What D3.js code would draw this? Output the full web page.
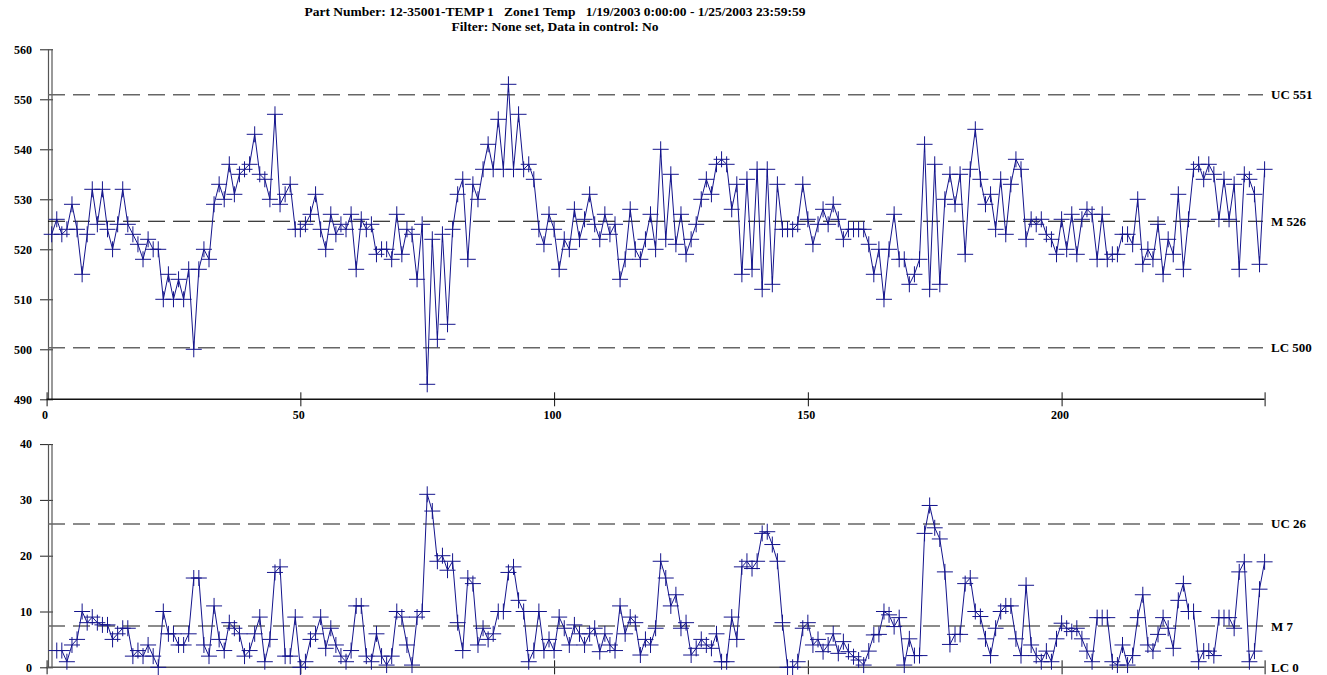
<!DOCTYPE html>
<html>
<head>
<meta charset="utf-8">
<script src="https://cdn.jsdelivr.net/npm/d3@7/dist/d3.min.js"></script>
<style>
  body { margin: 0; background: #fff; }
  svg { display: block; }
  text { font-family: "Liberation Serif", "Times New Roman", serif; font-weight: bold; fill: #000; }
</style>
</head>
<body>
<svg id="chart" width="1327" height="675"></svg>
<script>
// Zone1 Temp readings, samples 1..240
const individuals = [
  523,526,523,524,529,524,515,523,532,525,532,524,520,525,532,525,523,521,518,522,
  520,520,510,515,510,514,510,516,500,516,520,518,529,533,530,537,531,535,536,537,
  543,535,534,530,547,529,531,533,524,524,525,527,531,524,520,527,523,525,524,527,
  516,526,524,525,519,520,520,518,527,519,524,523,514,525,493,522,502,523,505,524,
  531,534,518,533,530,536,541,536,546,536,553,536,547,536,537,534,524,521,527,524,
  516,522,520,528,522,526,531,525,522,527,523,525,514,518,528,520,518,522,527,520,
  540,522,535,521,527,519,522,525,530,534,531,537,538,537,528,533,515,534,516,536,
  512,536,513,533,524,524,524,525,533,526,521,525,528,525,529,526,522,524,524,524,
  524,521,515,520,510,520,527,518,518,513,515,518,541,512,537,513,530,535,529,535,
  519,536,544,534,529,531,524,534,523,533,538,536,522,526,525,526,523,522,519,526,
  520,527,519,526,528,527,518,527,518,519,519,523,523,521,530,517,520,518,525,515,
  522,519,531,516,526,536,537,534,537,535,526,534,526,533,516,535,534,531,517,536
];

// moving ranges, samples 2..240
const movingRanges = [
  3,3,1,4,5,10,8,9,8,7.6,7.6,5,6,7,7,2,3,2,4,
  2,0,10,6,6,4,4,6,16,16,4,2,11,5,3,8,7,6,2,3,
  6,9,1,5,17,18,2,2,9,0,1,5,6,9,3.4,7,4,2,1,3,
  11,11,2,1,6,2,0.4,2,10,9,4,0.4,9,10,31,28,19,20,17.4,19,
  8,3,16,15,4,7,5,6,10,10,17,18,12,10,1,3,10,3,5,3,
  9,7,4,7.6,6,4,6,7,2.8,6,4,3,11,6,9,8,2.2,5,4,7,
  19,16,11,13,7,8,2.2,3.4,5,4,3.4,6,1,1,9,5,18,19,17.7,19,
  24,24.3,22,19,8,0,0,1,7,8,4,5,2.8,4,6,2.5,4.6,2.8,1.9,1.3,
  0.4,2.9,5.8,5.9,10,9.4,7.3,8.9,0.4,5.1,2.1,2.1,24,29,25,23,17.1,4.1,5.9,5.9,
  15,16,10,9.1,5.1,2.1,7,10,11,11,5.1,2.1,14.7,4,2.1,1,2.9,1,5.1,7.9,
  7,6.4,7,5.1,2.9,1,8.9,8.9,8.9,1,0.4,4,0.4,2.1,8.9,13,4,2.9,5.9,8.9,
  7,3.4,12,15,10,10,1,2.9,2.9,2.1,8.9,8.9,8.9,7,17.1,18.9,1,2.9,14,18.9
];

const xTickValues = [0, 50, 100, 150, 200, 240];
const xTickLabels = ["0", "50", "100", "150", "200", ""];
const indTickValues = [490, 500, 510, 520, 530, 540, 550, 560];
const mrTickValues = [0, 10, 20, 30, 40];

const indLimitValues = [550.9, 525.6, 500.3];
const indLimitLabels = ["UC 551", "M 526", "LC 500"];
const mrLimitValues = [25.7, 7.4, 0];
const mrLimitLabels = ["UC 26", "M 7", "LC 0"];

const titleLines = [
  "Part Number: 12-35001-TEMP 1   Zone1 Temp   1/19/2003 0:00:00 - 1/25/2003 23:59:59",
  "Filter: None set, Data in control: No"
];

const svg = d3.select("#chart");
const LINE_COLOR = "#14148c";
const AXIS_X = 48;

const xScale = d3.scaleLinear().domain([0, 240]).range([46.6, 1264.6]);
const yInd = d3.scaleLinear().domain([490, 560]).range([399.3, 49.3]);
const yMr = d3.scaleLinear().domain([0, 40]).range([667.3, 444.1]);

// header
svg.selectAll("text.title")
  .data(titleLines)
  .join("text")
  .attr("class", "title")
  .attr("x", 555)
  .attr("y", (d, i) => 16 + i * 15)
  .attr("text-anchor", "middle")
  .style("font-size", "13.5px")
  .style("white-space", "pre")
  .attr("xml:space", "preserve")
  .text(d => d);

drawPanel(yInd, indTickValues, true, individuals.map((v, i) => [i + 1, v]),
  indLimitValues, indLimitLabels, ["#666", "#000", "#666"]);
drawPanel(yMr, mrTickValues, false, movingRanges.map((v, i) => [i + 2, v]),
  mrLimitValues, mrLimitLabels, ["#666", "#666", null]);

/**
 * One chart panel: axes, control limits, the series line and its "+" markers.
 */
function drawPanel(yScale, yTicks, withXLabels, points, limits, limitLabels, limitColors) {
  const g = svg.append("g");
  const [yBottom, yTop] = yScale.range();

  // y axis (drawn as a double rule like the original)
  const yAxis = d3.axisLeft(yScale).tickValues(yTicks).tickSize(8).tickPadding(8)
    .tickFormat(d3.format("d"));
  const gY = g.append("g").attr("transform", `translate(${AXIS_X},0)`).call(yAxis);
  gY.select(".domain").remove();
  gY.selectAll(".tick line").attr("x1", 5).attr("x2", -8).attr("stroke", "#222");
  gY.selectAll(".tick text").attr("x", -16).style("font-size", "12px")
    .style("font-family", "Liberation Serif").style("font-weight", "bold");
  [AXIS_X + 0.5, AXIS_X + 4].forEach(px => {
    g.append("line").attr("x1", px).attr("x2", px).attr("y1", yTop).attr("y2", yBottom)
      .attr("stroke", "#555").attr("stroke-width", 1.2);
  });

  // control limits
  limits.forEach((v, i) => {
    if (limitColors[i]) {
      g.append("line")
        .attr("x1", AXIS_X).attr("x2", 1263)
        .attr("y1", yScale(v)).attr("y2", yScale(v))
        .attr("stroke", limitColors[i])
        .attr("stroke-width", limitColors[i] === "#000" ? 1.1 : 1.5)
        .attr("stroke-dasharray", "17,8");
    }
    g.append("text")
      .attr("x", 1271).attr("y", yScale(v)).attr("dy", "0.35em")
      .style("font-size", "13px")
      .text(limitLabels[i]);
  });

  // x axis
  const xAxis = d3.axisBottom(xScale).tickValues(xTickValues).tickSize(7)
    .tickFormat((d, i) => withXLabels ? xTickLabels[i] : "");
  const gX = g.append("g").attr("transform", `translate(0,${yBottom})`).call(xAxis);
  gX.select(".domain").remove();
  gX.selectAll(".tick line").attr("y1", -7).attr("stroke", "#111");
  gX.selectAll(".tick text").attr("dx", "-2px").attr("y", 11).style("font-size", "12px")
    .style("font-family", "Liberation Serif").style("font-weight", "bold");
  g.append("line").attr("x1", xScale(0)).attr("x2", xScale(240))
    .attr("y1", yBottom).attr("y2", yBottom)
    .attr("stroke", withXLabels ? "#111" : "#555").attr("stroke-width", 1.5);

  // series
  const line = d3.line().x(d => xScale(d[0])).y(d => yScale(d[1]));
  g.append("path").datum(points)
    .attr("d", line).attr("fill", "none")
    .attr("stroke", LINE_COLOR).attr("stroke-width", 1);

  g.selectAll("path.mark").data(points).join("path")
    .attr("class", "mark")
    .attr("transform", d => `translate(${xScale(d[0])},${yScale(d[1])})`)
    .attr("d", "M-8,0H8M0,-8V8")
    .attr("stroke", LINE_COLOR).attr("stroke-width", 1).attr("fill", "none");
}
</script>
</body>
</html>
